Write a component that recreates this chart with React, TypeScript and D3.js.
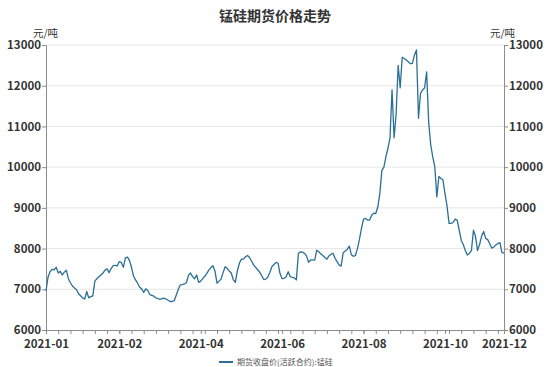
import React, { useEffect, useRef } from 'react';
import * as d3 from 'd3';

// closing price of the active manganese-silicon contract, one value per trading day
const prices: number[] = [
  6960, 7300, 7430, 7490, 7480, 7540, 7400, 7440, 7350, 7420,
  7470, 7260, 7160, 7080, 7030, 6990, 6890, 6840, 6790, 6760,
  6945, 6790, 6820, 6840, 7200, 7260, 7310, 7350, 7400, 7470,
  7500, 7410, 7510, 7580, 7590, 7570, 7680, 7660, 7540, 7770,
  7790, 7710, 7540, 7320, 7230, 7150, 7050, 7010, 6920, 7010,
  6970, 6870, 6850, 6830, 6790, 6770, 6755, 6770, 6780, 6760,
  6730, 6700, 6700, 6720, 6860, 7000, 7110, 7115, 7130, 7160,
  7340, 7400, 7310, 7260, 7350, 7170, 7200, 7260, 7320, 7390,
  7470, 7530, 7580, 7450, 7150, 7200, 7250, 7410, 7555, 7515,
  7450, 7400, 7240, 7170, 7450, 7640, 7740, 7740, 7800, 7830,
  7780, 7690, 7600, 7540, 7480, 7420, 7330, 7240, 7250, 7300,
  7420, 7560, 7610, 7660, 7640, 7380, 7260, 7270, 7310, 7430,
  7310, 7290, 7280, 7230, 7880, 7920, 7915, 7880, 7820, 7660,
  7720, 7720, 7715, 7960, 7920, 7870, 7830, 7780, 7740, 7820,
  7860, 7885, 7760, 7680, 7600, 7570, 7900, 7940, 7980, 8060,
  7850, 7810, 7830, 8000, 8230, 8500, 8725, 8740, 8700, 8700,
  8820, 8870, 8860, 9020, 9350, 9920, 10000, 10260, 10470, 10720,
  11900, 10720, 11300, 12500, 11950, 12700, 12670, 12630, 12590, 12540,
  12550, 12750, 12880, 11200, 11820, 11890, 11950, 12340, 11100, 10550,
  10250, 10010, 9270, 9770, 9720, 9690, 9350, 9050, 8620, 8620,
  8640, 8725, 8700, 8450, 8200, 8100, 7950, 7840, 7880, 7950,
  8450, 8300, 7950, 8100, 8300, 8420, 8250, 8220, 8120, 8010,
  8040, 8090, 8120, 8145, 7900, 7890,
];

// x-axis labels sit on trading-day positions
const labelIndex: number[] = [0, 36, 76, 116, 156, 196, 225];
const labelText: string[] = ['2021-01', '2021-02', '2021-04', '2021-06', '2021-08', '2021-10', '2021-12'];
const yTicks: number[] = [6000, 7000, 8000, 9000, 10000, 11000, 12000, 13000];

const title = '锰硅期货价格走势';
const unit = '元/吨';
const seriesName = '期货收盘价(活跃合约):锰硅';

const App: React.FC = () => {
  const svgRef = useRef<SVGSVGElement>(null);

  useEffect(() => {
    if (!svgRef.current) return;
    const svg = d3.select(svgRef.current);
    svg.selectAll('*').remove();

    const width = 550;
    const height = 367;
    const left = 46;
    const right = 504;
    const top = 45;
    const bottom = 330;
    const font = '"Noto Sans CJK SC", "Noto Sans", sans-serif';
    const lineColor = '#2c6f96';
    const axisColor = '#8c8c8c';
    const textColor = '#333';

    svg.attr('width', width).attr('height', height).style('font-family', font);

    const x = d3.scaleLinear().domain([0, prices.length - 1]).range([left, right]);
    const y = d3.scaleLinear().domain([6000, 13000]).range([bottom, top]);

    // title
    svg.append('text')
      .attr('x', width / 2)
      .attr('y', 21)
      .attr('text-anchor', 'middle')
      .attr('font-size', 14)
      .attr('font-weight', 'bold')
      .attr('fill', textColor)
      .text(title);

    // gridlines
    svg.append('g')
      .selectAll('line')
      .data(yTicks.slice(1))
      .enter()
      .append('line')
      .attr('x1', left)
      .attr('x2', right)
      .attr('y1', d => y(d))
      .attr('y2', d => y(d))
      .attr('stroke', '#e6e6e6')
      .attr('stroke-width', 1);

    // left and right axes
    const leftAxis = svg.append('g')
      .attr('transform', `translate(${left},0)`)
      .call(d3.axisLeft(y).tickValues(yTicks).tickSize(4).tickPadding(1).tickFormat(d3.format('d')));
    const rightAxis = svg.append('g')
      .attr('transform', `translate(${right},0)`)
      .call(d3.axisRight(y).tickValues(yTicks).tickSize(4).tickPadding(1).tickFormat(d3.format('d')));

    // bottom axis: minor ticks plus labelled ticks
    const minorTicks = d3.range(0, prices.length, 6);
    svg.append('g')
      .attr('transform', `translate(0,${bottom})`)
      .call(d3.axisBottom(x).tickValues(minorTicks).tickSize(4).tickFormat(() => ''));
    const bottomAxis = svg.append('g')
      .attr('transform', `translate(0,${bottom})`)
      .call(
        d3.axisBottom(x)
          .tickValues(labelIndex)
          .tickSize(4)
          .tickPadding(6)
          .tickFormat((_, i) => labelText[i])
      );

    [leftAxis, rightAxis, bottomAxis].forEach(g => {
      g.selectAll('text')
        .attr('fill', textColor)
        .attr('font-size', 11.5)
        .attr('font-weight', 'bold')
        .style('font-family', font);
    });
    svg.selectAll('.domain').attr('stroke', axisColor);
    svg.selectAll('.tick line').attr('stroke', axisColor);

    // unit labels
    svg.append('text')
      .attr('x', 33)
      .attr('y', 37)
      .attr('font-size', 10.5)
      .attr('fill', textColor)
      .text(unit);
    svg.append('text')
      .attr('x', 490)
      .attr('y', 37)
      .attr('font-size', 10.5)
      .attr('fill', textColor)
      .text(unit);

    // price line
    const line = d3.line<number>()
      .x((_, i) => x(i))
      .y(d => y(d));

    svg.append('path')
      .datum(prices)
      .attr('fill', 'none')
      .attr('stroke', lineColor)
      .attr('stroke-width', 1.3)
      .attr('stroke-linejoin', 'round')
      .attr('d', line);

    // legend
    const legend = svg.append('g').attr('transform', 'translate(219,362)');
    legend.append('line')
      .attr('x1', 0)
      .attr('x2', 14)
      .attr('stroke', lineColor)
      .attr('stroke-width', 2);
    legend.append('text')
      .attr('x', 18)
      .attr('y', 3)
      .attr('font-size', 8)
      .attr('fill', '#555')
      .text(seriesName);
  }, []);

  return (
    <div style={{ position: 'fixed', left: 0, top: 0, width: 550, height: 367, background: '#fff' }}>
      <svg ref={svgRef}></svg>
    </div>
  );
};

export default App;
